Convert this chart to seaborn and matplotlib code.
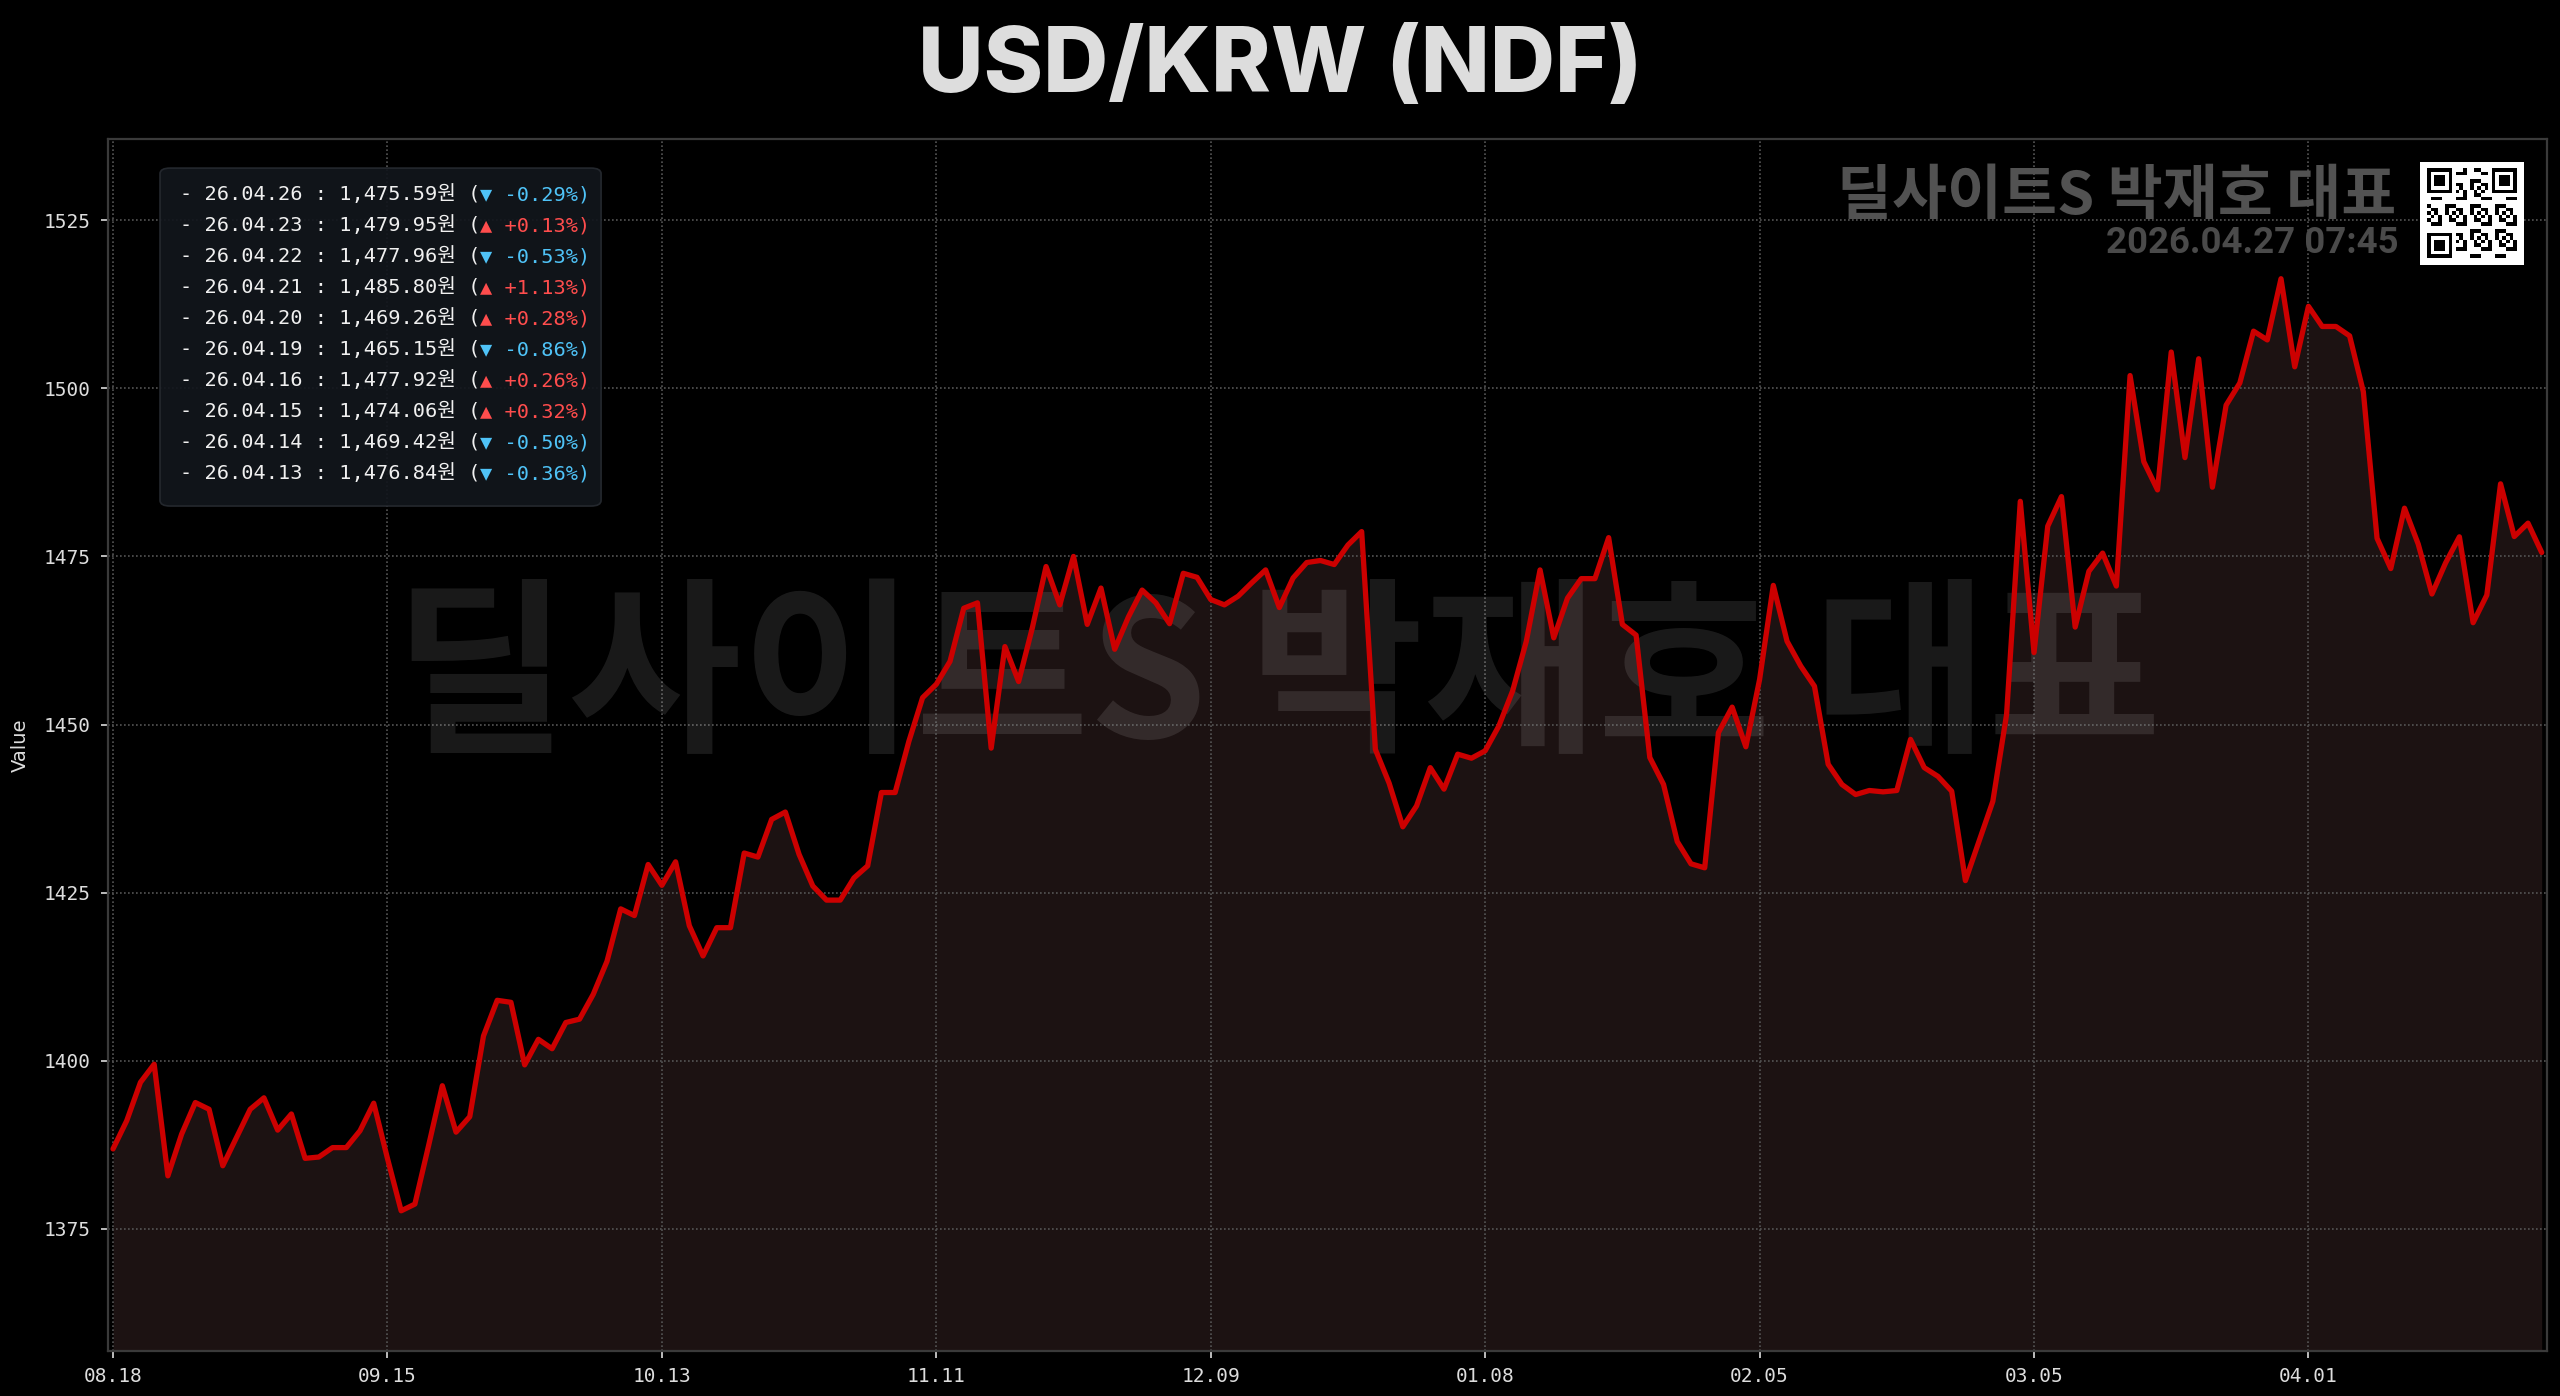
# USD/KRW (NDF) daily chart - dark theme
import numpy as np
import pandas as pd
import matplotlib
matplotlib.use("Agg")
import matplotlib.pyplot as plt
import seaborn as sns
from matplotlib.patches import FancyBboxPatch

# Data
values = [
    1386.9, 1391.1, 1396.8, 1399.5, 1382.9, 1389.1, 1393.8, 1392.8, 1384.4, 1388.6,
    1392.8, 1394.5, 1389.7, 1392.1, 1385.5, 1385.7, 1387.1, 1387.1, 1389.6, 1393.7,
    1385.5, 1377.7, 1378.7, 1387.4, 1396.3, 1389.4, 1391.7, 1403.7, 1409.0, 1408.7,
    1399.4, 1403.2, 1401.8, 1405.7, 1406.2, 1409.9, 1414.8, 1422.6, 1421.6, 1429.2,
    1426.1, 1429.6, 1420.1, 1415.6, 1419.8, 1419.8, 1430.9, 1430.3, 1435.9, 1437.0,
    1430.7, 1426.0, 1423.9, 1423.9, 1427.2, 1429.0, 1439.9, 1439.9, 1447.5, 1454.0,
    1456.0, 1459.4, 1467.3, 1468.1, 1446.5, 1461.6, 1456.4, 1464.4, 1473.5, 1467.8,
    1475.0, 1464.9, 1470.3, 1461.2, 1466.0, 1470.0, 1468.1, 1465.0, 1472.5, 1471.9,
    1468.6, 1467.8, 1469.1, 1471.1, 1473.0, 1467.4, 1471.8, 1474.1, 1474.4, 1473.8,
    1476.7, 1478.7, 1446.3, 1441.3, 1434.8, 1437.9, 1443.6, 1440.4, 1445.6, 1445.0,
    1446.1, 1449.8, 1455.0, 1462.4, 1473.0, 1462.9, 1468.8, 1471.7, 1471.7, 1477.8,
    1464.9, 1463.3, 1445.1, 1441.1, 1432.6, 1429.3, 1428.7, 1448.8, 1452.6, 1446.7,
    1456.7, 1470.7, 1462.4, 1458.7, 1455.7, 1444.1, 1441.1, 1439.6, 1440.2, 1440.0,
    1440.2, 1447.8, 1443.6, 1442.3, 1440.1, 1426.8, 1432.7, 1438.6, 1451.5, 1483.2,
    1460.7, 1479.5, 1483.9, 1464.5, 1472.8, 1475.5, 1470.6, 1501.9, 1489.1, 1484.9,
    1505.4, 1489.7, 1504.4, 1485.3, 1497.5, 1500.8, 1508.5, 1507.2, 1516.3, 1503.2,
    1512.2, 1509.2, 1509.2, 1507.8, 1499.5, 1477.7, 1473.2, 1482.18, 1476.84, 1469.42,
    1474.06, 1477.92, 1465.15, 1469.26, 1485.80, 1477.96, 1479.95, 1475.59,
]
tick_labels = ["08.18", "09.15", "10.13", "11.11", "12.09", "01.08", "02.05", "03.05", "04.01"]
tick_step = 20
y_ticks = [1375, 1400, 1425, 1450, 1475, 1500, 1525]

recent_dates = ["26.04.26", "26.04.23", "26.04.22", "26.04.21", "26.04.20",
                "26.04.19", "26.04.16", "26.04.15", "26.04.14", "26.04.13"]
recent_values = [1475.59, 1479.95, 1477.96, 1485.80, 1469.26,
                 1465.15, 1477.92, 1474.06, 1469.42, 1476.84]
recent_changes = [-0.29, 0.13, -0.53, 1.13, 0.28, -0.86, 0.26, 0.32, -0.50, -0.36]

watermark = "딜사이트S 박재호 대표"
stamp = "2026.04.27 07:45"

# Style
sns.set_style("dark", {"axes.facecolor": "black", "figure.facecolor": "black"})
plt.rcParams["font.family"] = ["DejaVu Sans Mono", "Noto Sans CJK KR"]

df = pd.DataFrame({"idx": np.arange(len(values)), "value": values})

fig = plt.figure(figsize=(12.8, 6.98), dpi=200, facecolor="black")
ax = fig.add_axes([0.042, 0.0325, 0.953, 0.868])
ax.set_facecolor("black")

rng = df["value"].max() - df["value"].min()
lo = df["value"].min() - 0.15 * rng
hi = df["value"].max() + 0.15 * rng

ax.fill_between(df["idx"], df["value"], lo, color="#1c1212", linewidth=0, zorder=0.2)
sns.lineplot(data=df, x="idx", y="value", ax=ax, color="#cc0000", linewidth=1.9, zorder=4)

ax.set_xlim(-0.4, len(values) - 1 + 0.4)
ax.set_ylim(lo, hi)
ax.set_xticks(list(range(0, tick_step * len(tick_labels), tick_step)))
ax.set_xticklabels(tick_labels)
ax.set_yticks(y_ticks)
ax.set_xlabel("")
ax.set_ylabel("Value", color="#dddddd", fontsize=7, family="DejaVu Sans")
ax.yaxis.set_label_coords(-0.032, 0.5)

ax.set_axisbelow(True)
ax.grid(True, color="#555555", linestyle=(0, (1, 1.4)), linewidth=0.6)
ax.tick_params(colors="#dddddd", labelsize=7, length=2.5, width=0.6, pad=3.5,
               bottom=True, left=True)
for s in ax.spines.values():
    s.set_color("#3a3a3a")
    s.set_linewidth(0.8)

# Big centre watermark
ax.text(0.4796, 0.552, watermark, transform=ax.transAxes, ha="center", va="center",
        fontsize=68, fontweight="bold", color="white", alpha=0.1,
        family=["Noto Sans CJK KR", "DejaVu Sans"], zorder=2)

# Top right watermark + timestamp
ax.text(0.9383, 0.9520, watermark, transform=ax.transAxes, ha="right", va="center",
        fontsize=21.5, fontweight="bold", color="#525252",
        family=["Noto Sans CJK KR", "DejaVu Sans"], zorder=5)
ax.text(0.9390, 0.9139, stamp, transform=ax.transAxes, ha="right", va="center",
        fontsize=13.2, fontweight="bold", color="#4a4a4a", family="Roboto", zorder=5)

# Recent values box
box = FancyBboxPatch((0.0625, 0.6375), 0.1723, 0.2421, transform=fig.transFigure,
                     boxstyle="round,pad=0,rounding_size=0.004",
                     facecolor="#12161c", edgecolor="#262a30", linewidth=0.6,
                     alpha=0.93, zorder=6)
ax.add_patch(box)
for k, (d, v, c) in enumerate(zip(recent_dates, recent_values, recent_changes)):
    y = 1 - (194.3 + 31.0 * k) / 1396
    t1 = ax.text(0.0703, y, f"- {d} : {v:,.2f}원 (", transform=fig.transFigure,
                 ha="left", va="center", fontsize=7.3, color="#f0f0f0", zorder=7)
    arrow, col = ("▲", "#ff4d4d") if c > 0 else ("▼", "#4fc3f7")
    ax.annotate(f"{arrow} {c:+.2f}%)", xy=(1, 0), xycoords=t1, ha="left", va="bottom",
                fontsize=7.3, color=col, zorder=7)

# QR-style badge
n = 25
r, c = np.indices((n, n))
qr = (((r * 3 + c * 5 + r * c) % 7) < 3).astype(int)
for r0, c0 in [(0, 0), (0, n - 7), (n - 7, 0)]:
    qr[max(r0 - 1, 0):r0 + 8, max(c0 - 1, 0):c0 + 8] = 0
    qr[r0:r0 + 7, c0:c0 + 7] = 1
    qr[r0 + 1:r0 + 6, c0 + 1:c0 + 6] = 0
    qr[r0 + 2:r0 + 5, c0 + 2:c0 + 5] = 1
qr = np.pad(qr, 2)
qax = fig.add_axes([0.9453, 0.8102, 0.0406, 0.0738])
qax.imshow(qr, cmap="gray_r", interpolation="nearest", aspect="auto")
qax.axis("off")

# Title
fig.text(0.5, 0.951, "USD/KRW (NDF)", ha="center", va="center", fontsize=32.5,
         fontweight="heavy", color="#dddddd", family="Inter")

fig.savefig("out.png", dpi=200, facecolor="black")
